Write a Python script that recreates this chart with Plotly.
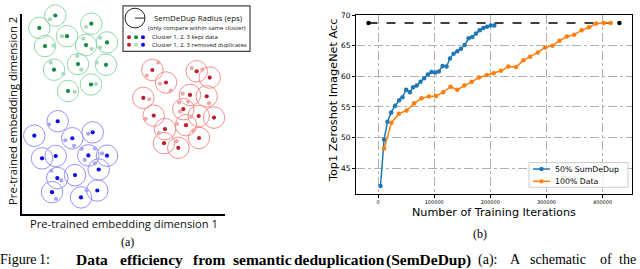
import plotly.graph_objects as go

W, H = 640, 269

# ---------------- Panel (b) data ----------------
sd_iters = [4300, 10700, 16800, 23300, 30400, 37500, 43500, 50000, 56600, 62500, 69000,
            75600, 82100, 88700, 95200, 101800, 108300, 114900, 122000, 128000, 134500,
            141100, 147600, 154200, 161300, 167900, 174400, 181000, 187500, 194000,
            200600, 207100]
sd_acc = [42.1, 49.7, 52.6, 54.1, 55.2, 56.1, 56.6, 57.8, 57.4, 58.2, 58.5, 59.1, 59.7,
          60.3, 60.7, 60.6, 60.8, 61.7, 61.6, 62.9, 63.7, 64.1, 64.5, 65.1, 66.2, 66.4,
          67.0, 67.5, 67.9, 68.1, 68.3, 68.3]
full_iters = [10700, 23900, 37000, 50700, 64300, 77400, 90500, 103200, 116000, 129000,
              141100, 153600, 166700, 179800, 193500, 205900, 219000, 232100, 245800,
              258900, 270800, 284500, 297600, 310700, 323200, 336300, 349400, 362500,
              375600, 388700, 401800, 414300]
full_acc = [48.2, 52.4, 53.9, 54.4, 55.6, 56.4, 56.7, 56.8, 57.4, 58.3, 57.8, 58.5, 59.1,
            59.8, 60.2, 60.5, 60.9, 61.6, 61.5, 62.6, 63.2, 63.9, 64.7, 65.0, 65.8, 66.5,
            66.8, 67.5, 68.0, 68.6, 68.7, 68.7]
ref_iters = [-17000, 430000]
ref_acc = [68.7, 68.7]
x_ticks = [0, 100000, 200000, 300000, 400000]
x_tick_labels = ["0", "100000", "200000", "300000", "400000"]
y_ticks = [45, 50, 55, 60, 65, 70]
y_tick_labels = ["45", "50", "55", "60", "65", "70"]
series_names = ["50% SumDeDup", "100% Data"]

# ---------------- Panel (a) data (schematic embedding coords) ----------------
green_kept_x = [33.3, 17.3, 69.3, 45.0, 23.0, 64.0, 85.0, 56.0, 84.0, 32.0, 69.0, 46.0]
green_kept_y = [201.3, 188.7, 193.0, 180.3, 170.3, 171.3, 174.0, 152.0, 151.3, 146.3, 131.3, 124.7]
green_rm_x = [28.0, 64.0, 40.0, 31.3, 61.3, 69.7, 78.0, 78.0, 55.3, 59.3, 74.7, 28.7, 41.3, 74.0, 52.7]
green_rm_y = [197.3, 189.7, 180.3, 170.7, 178.0, 167.3, 178.7, 168.7, 160.3, 146.3, 153.7, 153.7, 142.0, 131.7, 123.7]

red_kept_x = [130.3, 144.0, 174.7, 187.7, 121.3, 168.0, 184.7, 161.3, 131.7, 176.7, 192.0, 164.0, 143.0, 177.0, 142.0, 156.3]
red_kept_y = [146.0, 133.3, 144.7, 138.3, 117.7, 120.7, 119.3, 106.3, 99.7, 99.3, 97.7, 90.0, 86.0, 77.0, 71.7, 67.0]
red_rm_x = [124.7, 136.3, 138.0, 148.7, 169.7, 180.3, 127.3, 160.7, 166.3, 187.0, 157.0, 158.0, 123.7, 169.3, 154.7, 137.0, 171.3, 154.7]
red_rm_y = [140.3, 153.7, 132.0, 125.0, 148.0, 146.3, 116.3, 122.0, 114.0, 112.3, 113.0, 104.0, 96.3, 98.7, 91.3, 82.0, 84.3, 73.7]

blue_kept_x = [35.7, 12.3, 50.3, 70.7, 20.0, 33.7, 66.3, 85.0, 76.7, 53.0, 35.3, 30.0, 59.0, 75.3]
blue_kept_y = [94.0, 79.3, 76.7, 82.7, 56.3, 58.7, 59.3, 59.0, 45.0, 39.3, 36.3, 22.0, 16.7, 23.7]
blue_rm_x = [27.0, 43.3, 52.0, 66.3, 59.7, 62.7, 73.0, 80.0, 73.0, 29.3, 39.3, 34.0, 64.7]
blue_rm_y = [90.7, 74.7, 69.0, 81.3, 66.0, 54.7, 66.3, 61.3, 51.3, 43.7, 34.0, 15.3, 24.0]

# caption words (text, bold)
caption_words = [("Figure", False), ("1:", False), ("Data", True), ("efficiency", True),
                 ("from", True), ("semantic", True), ("deduplication", True),
                 ("(SemDeDup)", True), ("(a):", False), ("A", False), ("schematic", False),
                 ("of", False), ("the", False)]
caption_centers = [18, 44.5, 91.5, 151, 209.5, 262.5, 339, 428.5, 487.5, 515, 557.5, 605.5, 627]

# colours
G_CIRC, G_KEPT, G_RM = "#86d3a4", "#128a3c", "#a9dcbf"
R_CIRC, R_KEPT, R_RM = "#f2847f", "#bf1f2a", "#f0a7a7"
B_CIRC, B_KEPT, B_RM = "#8a86f2", "#0a0af2", "#a6a6f2"
BLUE, ORANGE = "#1f77b4", "#ff7f0e"


def px(p):
    return p / W


def py(p):
    return 1 - p / H


fig = go.Figure()

# ---- panel (a) ----
for cx, cy, cc in [(green_kept_x, green_kept_y, G_CIRC),
                   (red_kept_x, red_kept_y, R_CIRC),
                   (blue_kept_x, blue_kept_y, B_CIRC)]:
    fig.add_trace(go.Scatter(x=cx, y=cy, mode="markers", xaxis="x2", yaxis="y2",
                             showlegend=False, cliponaxis=False, hoverinfo="skip",
                             marker=dict(symbol="circle-open", size=21.5, color=cc,
                                         line=dict(width=0.9, color=cc))))
for rx, ry, rc in [(green_rm_x, green_rm_y, G_RM),
                   (red_rm_x, red_rm_y, R_RM),
                   (blue_rm_x, blue_rm_y, B_RM)]:
    fig.add_trace(go.Scatter(x=rx, y=ry, mode="markers", xaxis="x2", yaxis="y2",
                             showlegend=False, cliponaxis=False, hoverinfo="skip",
                             marker=dict(size=4.2, color=rc)))
for kx, ky, kc in [(green_kept_x, green_kept_y, G_KEPT),
                   (red_kept_x, red_kept_y, R_KEPT),
                   (blue_kept_x, blue_kept_y, B_KEPT)]:
    fig.add_trace(go.Scatter(x=kx, y=ky, mode="markers", xaxis="x2", yaxis="y2",
                             showlegend=False, cliponaxis=False, hoverinfo="skip",
                             marker=dict(size=4.2, color=kc)))

# ---- panel (b) ----
fig.add_trace(go.Scatter(x=ref_iters, y=ref_acc, mode="lines+markers", showlegend=False,
                         line=dict(color="black", width=1.5, dash="dash"),
                         marker=dict(color="black", size=4.5), cliponaxis=False))
fig.add_trace(go.Scatter(x=sd_iters, y=sd_acc, mode="lines+markers", name=series_names[0],
                         showlegend=False,
                         line=dict(color=BLUE, width=1.5), marker=dict(color=BLUE, size=4.5)))
fig.add_trace(go.Scatter(x=full_iters, y=full_acc, mode="lines+markers", name=series_names[1],
                         showlegend=False,
                         line=dict(color=ORANGE, width=1.5), marker=dict(color=ORANGE, size=4.5)))

SANS_B = "DejaVu Sans"
SANS_A = "Open Sans"
SERIF = "Liberation Serif"

shapes = []
# panel (a) legend box
shapes.append(dict(type="rect", xref="paper", yref="paper", x0=px(123), x1=px(250),
                   y0=py(48), y1=py(2), line=dict(color="#444", width=1.2),
                   fillcolor="white", layer="above"))
shapes.append(dict(type="circle", xref="paper", yref="paper", x0=px(125), x1=px(145),
                   y0=py(24.3), y1=py(4.3), line=dict(color="#222", width=1), layer="above"))
shapes.append(dict(type="line", xref="paper", yref="paper", x0=px(135), x1=px(145),
                   y0=py(14.3), y1=py(14.3), line=dict(color="#222", width=1), layer="above"))
legend_dots = [(129, 33.7, R_KEPT), (136, 33.7, G_KEPT), (143, 33.7, B_KEPT),
               (129, 41.3, R_KEPT), (136, 41.3, G_RM), (143, 41.3, B_KEPT)]
for dx, dy, dc in legend_dots:
    shapes.append(dict(type="circle", xref="paper", yref="paper", x0=px(dx - 2), x1=px(dx + 2),
                       y0=py(dy + 2), y1=py(dy - 2), line=dict(width=0), fillcolor=dc,
                       layer="above"))

# panel (b) legend (drawn manually to match matplotlib's compact legend)
shapes.append(dict(type="rect", xref="paper", yref="paper", x0=px(529), x1=px(628),
                   y0=py(186), y1=py(161), line=dict(color="#cccccc", width=1),
                   fillcolor="rgba(255,255,255,0.85)", layer="above"))
for ly, lc in [(167.5, BLUE), (180, ORANGE)]:
    shapes.append(dict(type="line", xref="paper", yref="paper", x0=px(533), x1=px(550),
                       y0=py(ly), y1=py(ly), line=dict(color=lc, width=1.5), layer="above"))
    shapes.append(dict(type="circle", xref="paper", yref="paper", x0=px(539.3), x1=px(543.7),
                       y0=py(ly + 2.2), y1=py(ly - 2.2), line=dict(width=0), fillcolor=lc,
                       layer="above"))

annotations = [
    dict(text="SemDeDup Radius (eps)", x=px(152.5), y=py(14.3), xanchor="left", yanchor="middle",
         font=dict(family=SANS_A, size=7.9, color="#111")),
    dict(text="(only compare within same cluster)", x=px(197), y=py(24.2), xanchor="center",
         yanchor="middle", font=dict(family=SANS_A, size=6, color="#111")),
    dict(text="Cluster 1, 2, 3 kept data", x=px(150.5), y=py(33.7), xanchor="left",
         yanchor="middle", font=dict(family=SANS_A, size=6, color="#111")),
    dict(text="Cluster 1, 2, 3 removed duplicates", x=px(150.5), y=py(41.3), xanchor="left",
         yanchor="middle", font=dict(family=SANS_A, size=6, color="#111")),
    dict(text="Pre-trained embedding dimension 2", x=px(13), y=py(108.5), textangle=-90,
         xanchor="center", yanchor="middle", font=dict(family=SANS_A, size=11.2, color="#111")),
    dict(text="Pre-trained embedding dimension 1", x=px(124), y=py(223), xanchor="center",
         yanchor="middle", font=dict(family=SANS_A, size=11.2, color="#111")),
    dict(text="(a)", x=px(127), y=py(242), xanchor="center", yanchor="middle",
         font=dict(family=SERIF, size=12, color="black")),
    dict(text="Top1 Zeroshot ImageNet Acc", x=px(333), y=py(97.5), textangle=-90,
         xanchor="center", yanchor="middle", font=dict(family=SANS_B, size=11.3, color="black")),
    dict(text="Number of Training Iterations", x=px(494), y=py(212), xanchor="center",
         yanchor="middle", font=dict(family=SANS_B, size=11.2, color="black")),
    dict(text="(b)", x=px(480), y=py(233), xanchor="center", yanchor="middle",
         font=dict(family=SERIF, size=12, color="black")),
    dict(text=series_names[0], x=px(554), y=py(167.5), xanchor="left", yanchor="middle",
         font=dict(family=SANS_B, size=7.8, color="black")),
    dict(text=series_names[1], x=px(554), y=py(180), xanchor="left", yanchor="middle",
         font=dict(family=SANS_B, size=7.8, color="black")),
]
for (word, bold), cxw in zip(caption_words, caption_centers):
    annotations.append(dict(text=f"<b>{word}</b>" if bold else word, x=px(cxw), y=py(259.5),
                            xanchor="center", yanchor="middle",
                            font=dict(family=SERIF, size=15.5 if bold else 14, color="black")))
for a in annotations:
    a.update(xref="paper", yref="paper", showarrow=False, borderpad=0)

fig.update_layout(
    width=W, height=H, autosize=False,
    margin=dict(l=0, r=0, t=0, b=0),
    paper_bgcolor="white", plot_bgcolor="white",
    showlegend=False,
    xaxis=dict(domain=[px(356), px(632)], range=[-39350, 452350], tickvals=x_ticks,
               ticktext=x_tick_labels, tickfont=dict(family=SANS_B, size=5, color="black"),
               ticks="outside", ticklen=3, tickcolor="black", showline=True, mirror=True,
               linecolor="black", linewidth=1, showgrid=True, gridcolor="#b0b0b0",
               griddash="dashdot", gridwidth=0.8, zeroline=False, anchor="y"),
    yaxis=dict(domain=[py(193), py(11)], range=[40.77, 70.03], tickvals=y_ticks,
               ticktext=y_tick_labels, tickfont=dict(family=SANS_B, size=7.5, color="black"),
               ticks="outside", ticklen=3, tickcolor="black", showline=True, mirror=True,
               linecolor="black", linewidth=1, showgrid=True, gridcolor="#b0b0b0",
               griddash="dashdot", gridwidth=0.8, zeroline=False, anchor="x"),
    xaxis2=dict(domain=[px(22), px(225)], range=[0, 203], showline=True, linecolor="black",
                linewidth=1.5, showticklabels=False, ticks="", showgrid=False,
                zeroline=False, anchor="y2"),
    yaxis2=dict(domain=[py(213), py(10)], range=[0, 203], showline=True, linecolor="black",
                linewidth=1.5, showticklabels=False, ticks="", showgrid=False,
                zeroline=False, anchor="x2"),
    shapes=shapes,
    annotations=annotations,
)

fig.write_html("out.html", config={"displayModeBar": False},
               post_script="document.body.style.margin='0';document.body.style.overflow='hidden';")
